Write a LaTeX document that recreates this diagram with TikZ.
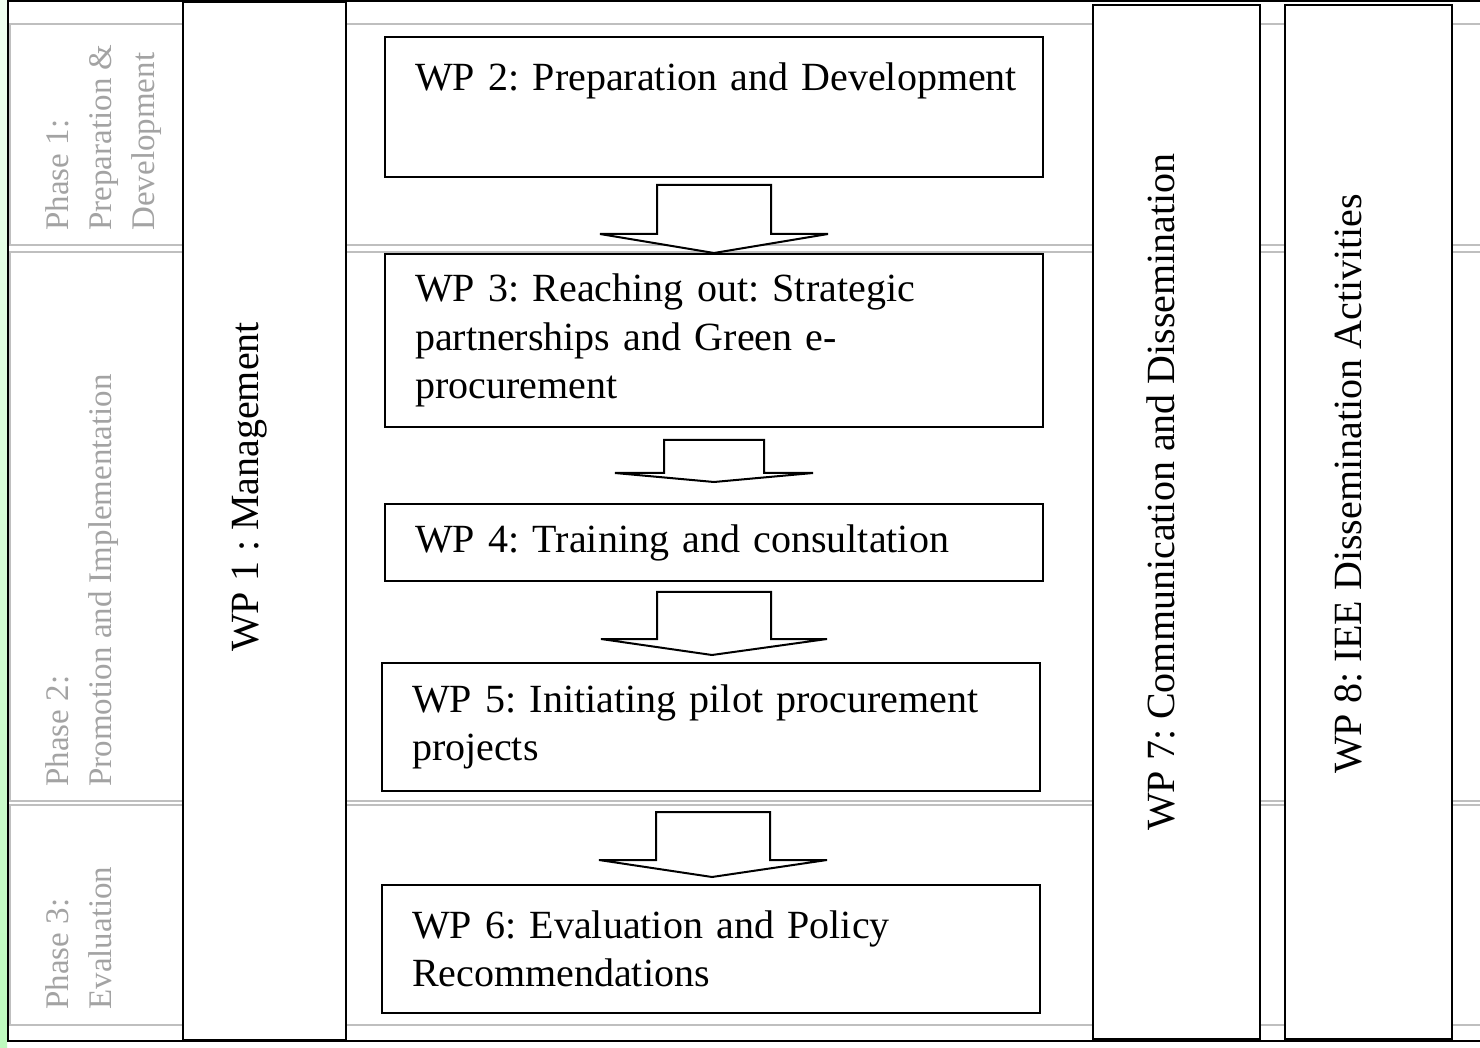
\documentclass[tikz,border=0pt]{standalone}
\usepackage{fontspec}
\setmainfont{Liberation Serif}
\usetikzlibrary{positioning,calc}

\begin{document}
\frenchspacing
\begin{tikzpicture}[x=0.5pt,y=-0.5pt,
    wpbox/.style={draw, line width=1pt, fill=white, anchor=north west, text width=299pt, inner xsep=15pt, align=left, font=\fontsize{20}{24.25}\selectfont},
    colbox/.style={draw, line width=1pt, fill=white, minimum width=83.5pt, minimum height=517pt, inner sep=0pt},
    coltext/.style={rotate=90, inner sep=0pt, font=\fontsize{20}{24}\selectfont},
    phaserow/.style={draw=black!25, line width=1pt},
    phasetext/.style={rotate=90, anchor=north west, inner sep=0pt, align=left, text=black!36, font=\fontsize{16.5}{21.5}\selectfont},
    blockarrow/.style={draw, line width=1pt, fill=white, line join=miter}]
    \useasboundingbox (0,0) rectangle (1480,1048);

    % Green strip at the left edge
    \shade[top color={rgb,255:red,240;green,255;blue,240}, bottom color={rgb,255:red,190;green,250;blue,190}] (0,0) rectangle (7,1048);

    % Phase rows (table cells)
    \draw[phaserow] (10,24) rectangle (1500,245);
    \draw[phaserow] (10,252) rectangle (1500,801);
    \draw[phaserow] (10,805) rectangle (1500,1025);

    % Outer frame
    \draw[line width=1pt] (8,1) rectangle (1500,1041);

    % Phase labels
    \node[phasetext] (ph1) at (45,231) {Phase 1:\\Preparation \&\\Development};
    \node[phasetext] (ph2) at (45,787) {Phase 2:\\Promotion and Implementation};
    \node[phasetext] (ph3) at (45,1010) {Phase 3:\\Evaluation};

    % WP 1 (management, spans all phases)
    \node[colbox, minimum width=81.5pt, minimum height=519pt] (wp1) at (264.5,521) {};
    \node[coltext] (wp1t) at ($(wp1.center)+(-15,-34)$) {WP 1 : Management};

    % Work packages in sequence
    \node[wpbox, minimum height=70pt] (wp2) at (384,36) {\mbox{WP 2: Preparation and Development}\\[6pt]\mbox{}};
    \node[wpbox, minimum height=86.5pt] (wp3) at (384,253) {WP 3: Reaching out: Strategic\\partnerships and Green e-\\procurement};
    \node[wpbox, minimum height=38.5pt] (wp4) at (384,503) {WP 4: Training and consultation};
    \node[wpbox, minimum height=64pt] (wp5) at (381,662) {WP 5: Initiating pilot procurement\\projects};
    \node[wpbox, minimum height=64pt] (wp6) at (381,884) {WP 6: Evaluation and Policy\\Recommendations};

    % Block arrows between the work packages
    \draw[blockarrow] ($(wp2.south)+(-57,7)$) -- ($(wp2.south)+(-57,56)$) -- ($(wp2.south)+(-114,56)$) -- (wp3.north) -- ($(wp2.south)+(114,56)$) -- ($(wp2.south)+(57,56)$) -- ($(wp2.south)+(57,7)$) -- cycle;
    \draw[blockarrow] ($(wp3.south)+(-50,12)$) -- ($(wp3.south)+(-50,45)$) -- ($(wp3.south)+(-99,45)$) -- ($(wp4.north)+(0,-21)$) -- ($(wp3.south)+(99,45)$) -- ($(wp3.south)+(50,45)$) -- ($(wp3.south)+(50,12)$) -- cycle;
    \draw[blockarrow] ($(wp4.south)+(-57,10)$) -- ($(wp4.south)+(-57,57)$) -- ($(wp4.south)+(-113,57)$) -- ($(wp5.north)+(1,-7)$) -- ($(wp4.south)+(113,57)$) -- ($(wp4.south)+(57,57)$) -- ($(wp4.south)+(57,10)$) -- cycle;
    \draw[blockarrow] ($(wp5.south)+(-55,20)$) -- ($(wp5.south)+(-55,68)$) -- ($(wp5.south)+(-112,68)$) -- ($(wp6.north)+(1,-7)$) -- ($(wp5.south)+(116,68)$) -- ($(wp5.south)+(59,68)$) -- ($(wp5.south)+(59,20)$) -- cycle;

    % WP 7 and WP 8 (running through all phases)
    \node[colbox] (wp7) at (1176.5,522) {};
    \node[coltext] (wp7t) at ($(wp7.center)+(-16,-30)$) {WP 7: Communication and Dissemination};
    \node[colbox] (wp8) at (1368.5,522) {};
    \node[coltext] (wp8t) at ($(wp8.center)+(-20,-38)$) {WP 8: IEE Dissemination Activities};
\end{tikzpicture}
\end{document}
